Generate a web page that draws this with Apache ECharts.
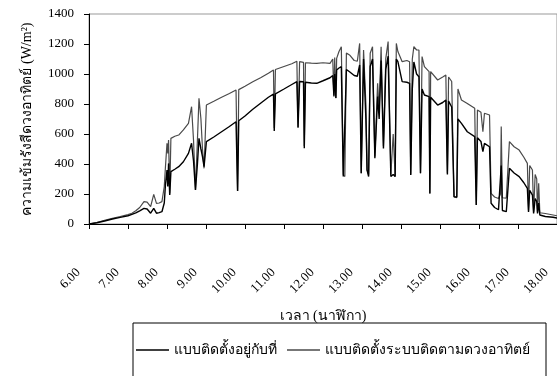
<!DOCTYPE html>
<html><head><meta charset="utf-8">
<script src="https://cdn.jsdelivr.net/npm/echarts@6/dist/echarts.min.js"></script>
<style>html,body{margin:0;padding:0;background:#fff}#c{width:557px;height:376px}</style>
</head><body><div id="c"></div>
<script>
// time of day (hours)
const times = [6.00,6.20,6.40,6.60,6.80,7.00,7.10,7.20,7.30,7.41,7.49,7.58,7.66,7.73,7.80,7.87,7.93,7.96,8.00,8.02,8.04,8.07,8.10,8.20,8.30,8.42,8.55,8.63,8.68,8.73,8.78,8.82,8.87,8.91,8.95,9.01,9.20,9.40,9.60,9.77,9.81,9.84,10.00,10.20,10.40,10.60,10.73,10.75,10.78,11.00,11.20,11.33,11.36,11.40,11.50,11.52,11.55,11.70,11.84,12.00,12.18,12.25,12.28,12.30,12.33,12.35,12.41,12.47,12.52,12.56,12.60,12.68,12.80,12.88,12.94,12.98,13.04,13.10,13.13,13.17,13.21,13.27,13.33,13.40,13.44,13.49,13.55,13.61,13.67,13.74,13.80,13.85,13.88,13.92,14.03,14.15,14.22,14.25,14.29,14.33,14.40,14.46,14.50,14.54,14.60,14.72,14.74,14.76,14.94,15.07,15.15,15.19,15.22,15.30,15.36,15.40,15.43,15.46,15.55,15.70,15.89,15.93,15.96,16.05,16.10,16.14,16.27,16.31,16.40,16.50,16.55,16.57,16.60,16.70,16.74,16.78,16.90,17.03,17.15,17.24,17.27,17.30,17.37,17.40,17.44,17.48,17.50,17.53,17.56,17.60,17.70,17.90,18.00,18.20];
// fixed installation (W/m2)
const fixedValues = [0,8,20,33,44,55,64,74,88,104,100,72,104,72,76,82,140,260,360,250,404,193,349,365,382,415,471,538,420,227,400,571,500,449,382,549,580,615,650,682,220,688,720,765,805,845,866,620,868,900,930,949,645,950,948,505,945,940,938,955,975,990,855,1000,840,1027,1040,1049,316,316,1030,1015,990,985,1060,338,1100,700,360,316,1050,1100,438,850,700,1090,504,1030,1120,316,330,316,1100,1082,949,945,938,327,900,1080,1000,982,338,900,860,849,204,845,793,810,827,330,820,780,182,171,180,700,671,615,582,127,575,550,482,538,515,138,110,95,100,390,90,82,82,371,340,316,275,238,80,225,193,70,170,150,70,140,60,55,50,45,40,30];
// sun-tracking installation (W/m2)
const trackingValues = [0,10,24,38,50,63,72,88,110,149,146,116,198,138,140,149,250,380,538,470,560,204,571,585,593,627,671,782,560,227,560,838,700,500,371,793,818,845,870,893,220,896,918,948,975,1005,1027,640,1030,1050,1068,1085,640,1082,1078,520,1075,1072,1071,1075,1071,1100,849,1110,838,1104,1150,1182,330,316,1140,1127,1090,1085,1204,338,1160,800,360,330,1138,1182,450,938,760,1182,520,1104,1216,330,600,316,1204,1150,1082,1090,1082,330,1100,1182,1160,1160,338,1116,1049,1016,204,1016,960,980,993,338,980,950,182,171,175,900,827,804,771,127,760,745,615,738,727,204,180,170,200,650,175,173,170,549,515,493,445,404,90,390,360,80,330,300,80,271,75,75,70,60,55,45];
const seriesNames = ['แบบติดตั้งอยู่กับที่', 'แบบติดตั้งระบบติดตามดวงอาทิตย์'];
const yTicks = {min: 0, max: 1400, step: 200};
const xTicks = {min: 6, max: 18, step: 1};

const fixedData = times.map((t, i) => [t, fixedValues[i]]);
const trackData = times.map((t, i) => [t, trackingValues[i]]);

const chart = echarts.init(document.getElementById('c'), null, {renderer: 'canvas'});
const serif = '"Liberation Serif", "Times New Roman", serif';
chart.setOption({
  animation: false,
  backgroundColor: '#fff',
  grid: {left: 89, top: 14, width: 476, height: 210, show: true, borderColor: '#999', borderWidth: 1, backgroundColor: 'transparent'},
  xAxis: {
    type: 'value', min: xTicks.min, max: xTicks.max, interval: xTicks.step,
    name: 'เวลา (นาฬิกา)', nameLocation: 'middle', nameGap: 85, nameMoveOverlap: false,
    nameTextStyle: {fontFamily: serif, fontSize: 14, color: '#000'},
    axisLine: {show: true, onZero: false, lineStyle: {color: '#000', width: 1}},
    axisTick: {show: true, inside: false, length: 5, lineStyle: {color: '#000'}},
    axisLabel: {rotate: 45, margin: 36, padding: [0, 15, 0, 0], fontFamily: serif, fontSize: 13, color: '#000',
      showMaxLabel: true, showMinLabel: true, formatter: v => v.toFixed(2)},
    splitLine: {show: false}
  },
  yAxis: {
    type: 'value', min: yTicks.min, max: yTicks.max, interval: yTicks.step,
    name: 'ความเข้มรังสีดวงอาทิตย์ (W/m²)', nameLocation: 'middle', nameGap: 55, nameRotate: 90, nameMoveOverlap: false,
    nameTextStyle: {fontFamily: serif, fontSize: 14, color: '#000'},
    axisLine: {show: true, lineStyle: {color: '#000', width: 1}},
    axisTick: {show: true, inside: false, length: 5, lineStyle: {color: '#000'}},
    axisLabel: {margin: 15, fontFamily: serif, fontSize: 13, color: '#000', formatter: v => String(v)},
    splitLine: {show: false}
  },
  legend: {
    left: 133, top: 323, orient: 'horizontal',
    padding: [20, 16, 40, 3], itemGap: 10, itemWidth: 33, itemHeight: 1.5, icon: 'rect',
    borderColor: '#000', borderWidth: 1, borderRadius: 0,
    textStyle: {fontFamily: serif, fontSize: 14, color: '#000'},
    data: seriesNames
  },
  series: [
    {name: seriesNames[0], type: 'line', data: fixedData, symbol: 'none', lineStyle: {color: '#000', width: 1.4}, itemStyle: {color: '#000'}, z: 3},
    {name: seriesNames[1], type: 'line', data: trackData, symbol: 'none', lineStyle: {color: '#4a4a4a', width: 1.2}, itemStyle: {color: '#4a4a4a'}, z: 2}
  ]
});
</script></body></html>
